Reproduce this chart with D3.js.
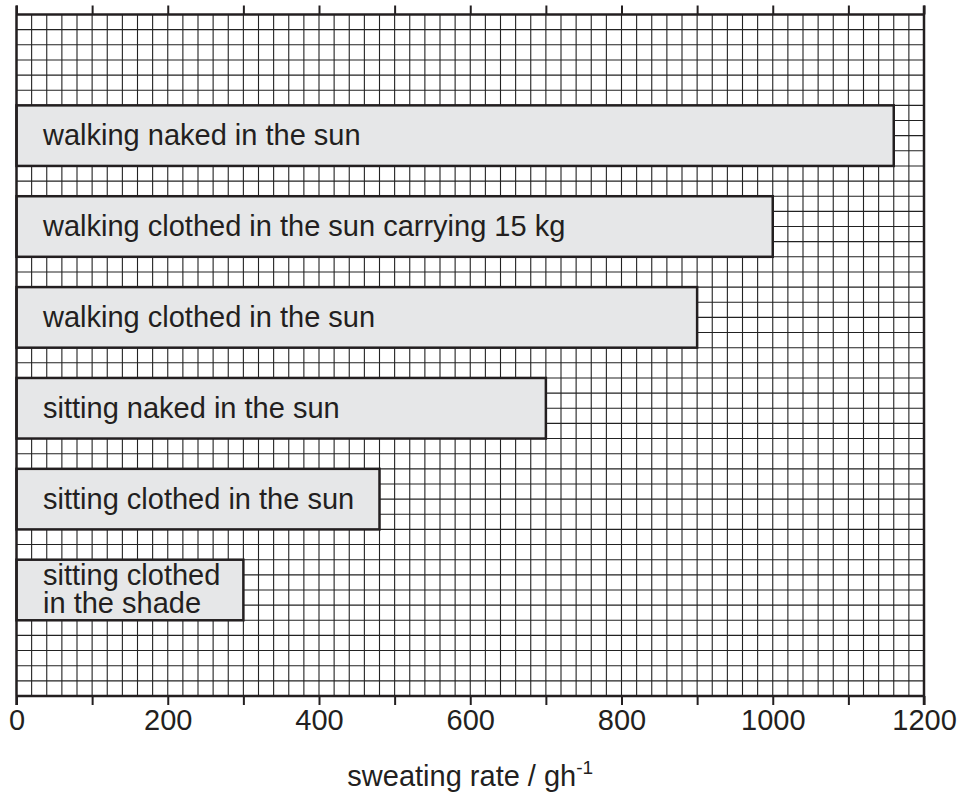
<!DOCTYPE html>
<html>
<head>
<meta charset="utf-8">
<script src="https://cdn.jsdelivr.net/npm/d3@7"></script>
<style>
  html, body { margin: 0; padding: 0; background: #fff; }
  svg { display: block; font-family: "Liberation Sans", Arial, Helvetica, sans-serif; }
</style>
</head>
<body>
<svg id="chart" width="957" height="798"></svg>
<script>
// ---- data ----
const categories = [
  ["walking naked in the sun"],
  ["walking clothed in the sun carrying 15 kg"],
  ["walking clothed in the sun"],
  ["sitting naked in the sun"],
  ["sitting clothed in the sun"],
  ["sitting clothed", "in the shade"]
];
const values = [1160, 1000, 900, 700, 480, 300];
const tickLabels = [0, 200, 400, 600, 800, 1000, 1200];
const minorTicks = [0, 100, 200, 300, 400, 500, 600, 700, 800, 900, 1000, 1100, 1200];
const axisTitle = "sweating rate / gh";
const axisTitleSup = "-1";

// ---- layout ----
const svg = d3.select("#chart");
const pLeft = 16.5, pRight = 924, pTop = 14.5, pBottom = 696;
const rows = 45;

const x = d3.scaleLinear().domain([0, 1200]).range([pLeft, pRight]);
const yRow = d3.scaleLinear().domain([0, rows]).range([pTop, pBottom]);
const y = d3.scaleBand()
  .domain(d3.range(categories.length))
  .range([yRow(5), yRow(41)])
  .paddingInner(1 / 3)
  .paddingOuter(1 / 6);

const ink = "#231f20";

// grid
const grid = svg.append("g");
grid.selectAll("line.v").data(d3.range(0, 1201, 20)).join("line")
  .attr("class", "v")
  .attr("x1", d => x(d)).attr("x2", d => x(d))
  .attr("y1", pTop).attr("y2", pBottom)
  .attr("stroke", "#222").attr("stroke-width", 1.1);
grid.selectAll("line.h").data(d3.range(0, rows + 1)).join("line")
  .attr("class", "h")
  .attr("x1", pLeft).attr("x2", pRight)
  .attr("y1", d => yRow(d)).attr("y2", d => yRow(d))
  .attr("stroke", "#222").attr("stroke-width", 1.1);

// bars
const bars = svg.append("g");
bars.selectAll("rect").data(values).join("rect")
  .attr("x", x(0))
  .attr("y", (d, i) => y(i))
  .attr("width", d => x(d) - x(0))
  .attr("height", y.bandwidth())
  .attr("fill", "#e6e7e8")
  .attr("stroke", ink)
  .attr("stroke-width", 2.5);

// bar labels
const lineH = 28;
bars.selectAll("text").data(categories).join("text")
  .attr("font-size", 29)
  .attr("fill", ink)
  .each(function (lines, i) {
    const cy = y(i) + y.bandwidth() / 2;
    const t = d3.select(this);
    lines.forEach((ln, k) => {
      t.append("tspan")
        .attr("x", 43)
        .attr("y", cy + 9.5 + (k - (lines.length - 1) / 2) * lineH)
        .text(ln);
    });
  });

// axes
const topAxis = d3.axisTop(x).tickValues(minorTicks).tickSize(9).tickFormat("");
svg.append("g").attr("transform", `translate(0,${pTop})`).call(topAxis)
  .call(g => g.select(".domain").remove())
  .call(g => g.selectAll(".tick line").attr("stroke", ink).attr("stroke-width", 2));

const bottomAxis = d3.axisBottom(x).tickValues(minorTicks).tickSize(9)
  .tickFormat(d => tickLabels.includes(d) ? d : "");
svg.append("g").attr("transform", `translate(0,${pBottom})`).call(bottomAxis)
  .call(g => g.select(".domain").remove())
  .call(g => g.selectAll(".tick line").attr("stroke", ink).attr("stroke-width", 2))
  .call(g => g.selectAll(".tick text")
    .attr("font-size", 29).attr("fill", ink)
    .attr("font-family", "Liberation Sans, Arial, sans-serif")
    .attr("dy", null).attr("y", 34));

// frame
svg.append("line").attr("x1", pLeft).attr("x2", pRight).attr("y1", pTop).attr("y2", pTop)
  .attr("stroke", ink).attr("stroke-width", 2.5);
svg.append("line").attr("x1", pLeft).attr("x2", pRight).attr("y1", pBottom).attr("y2", pBottom)
  .attr("stroke", ink).attr("stroke-width", 2.5);
svg.append("line").attr("x1", pLeft).attr("x2", pLeft).attr("y1", pTop - 9).attr("y2", pBottom + 9)
  .attr("stroke", ink).attr("stroke-width", 2.5);
svg.append("line").attr("x1", pRight).attr("x2", pRight).attr("y1", pTop - 9).attr("y2", pBottom + 9)
  .attr("stroke", ink).attr("stroke-width", 2.5);

// axis title
const title = svg.append("text")
  .attr("x", (pLeft + pRight) / 2).attr("y", 786)
  .attr("text-anchor", "middle")
  .attr("font-size", 29).attr("fill", ink);
title.append("tspan").text(axisTitle);
title.append("tspan").attr("font-size", 19).attr("dy", -12).text(axisTitleSup);
</script>
</body>
</html>
